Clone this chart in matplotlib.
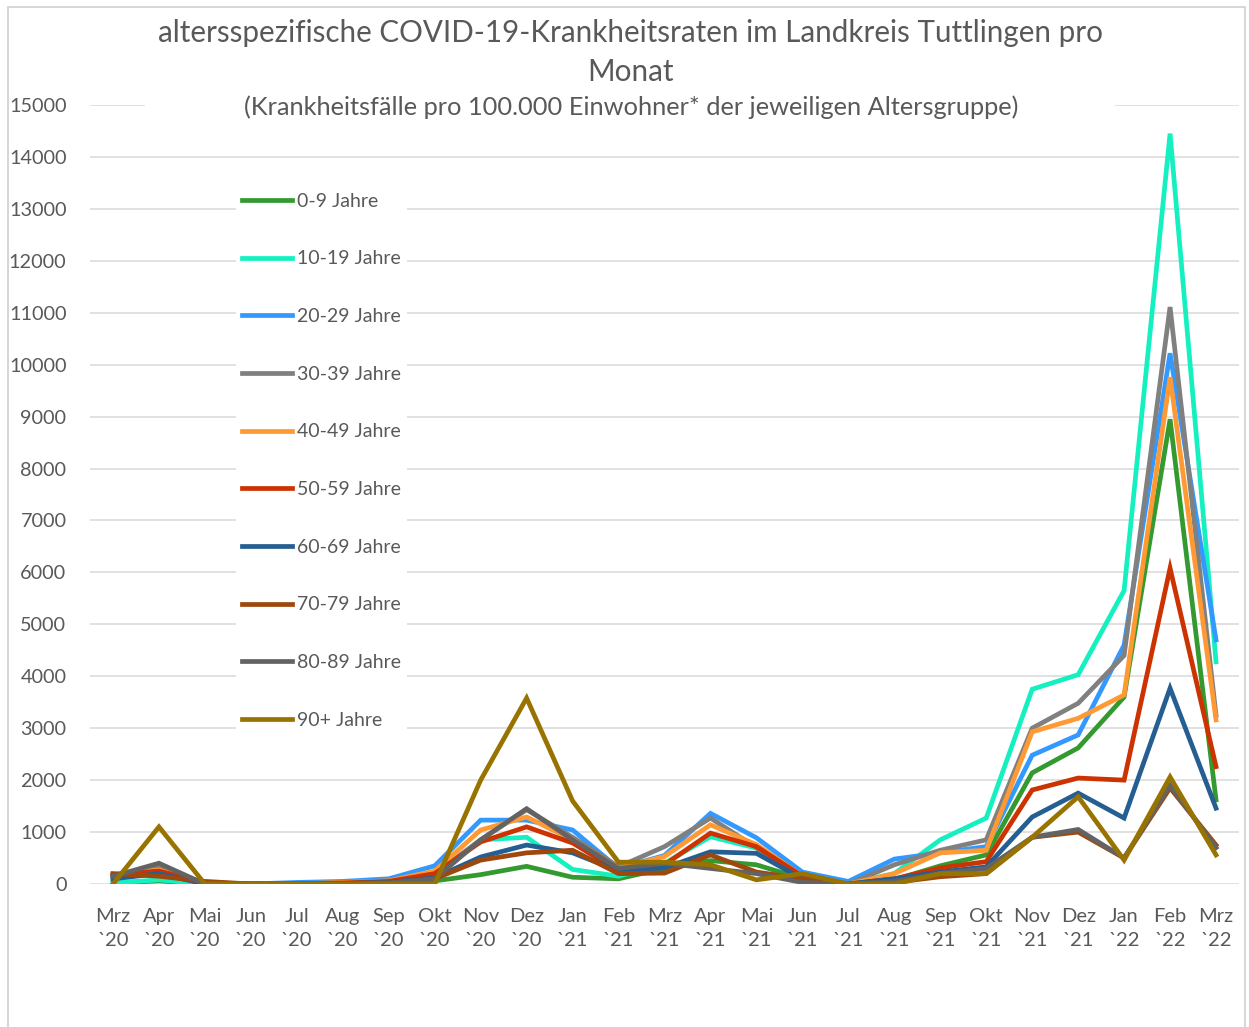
import matplotlib
matplotlib.use("Agg")
import matplotlib.pyplot as plt
from matplotlib.patches import Rectangle
import numpy as np

plt.rcParams['font.family'] = ['Lato', 'DejaVu Sans']

months = ["Mrz\n`20", "Apr\n`20", "Mai\n`20", "Jun\n`20", "Jul\n`20", "Aug\n`20", "Sep\n`20",
          "Okt\n`20", "Nov\n`20", "Dez\n`20", "Jan\n`21", "Feb\n`21", "Mrz\n`21", "Apr\n`21",
          "Mai\n`21", "Jun\n`21", "Jul\n`21", "Aug\n`21", "Sep\n`21", "Okt\n`21", "Nov\n`21",
          "Dez\n`21", "Jan\n`22", "Feb\n`22", "Mrz\n`22"]

a0_9 = [20, 60, 0, 0, 0, 10, 20, 60, 180, 340, 130, 100, 300, 450, 370, 100, 10, 80, 350, 560, 2140, 2620, 3600, 8950, 1620]
a10_19 = [20, 80, 0, 0, 0, 20, 40, 150, 850, 900, 280, 150, 400, 910, 690, 150, 10, 200, 850, 1270, 3750, 4030, 5650, 14450, 4280]
a20_29 = [100, 220, 0, 0, 30, 50, 100, 350, 1230, 1230, 1040, 300, 550, 1360, 890, 230, 50, 480, 600, 720, 2480, 2870, 4600, 10220, 4700]
a30_39 = [150, 350, 0, 0, 0, 30, 60, 200, 850, 1430, 900, 330, 720, 1270, 700, 80, 0, 370, 650, 850, 3000, 3480, 4400, 11110, 3250]
a40_49 = [180, 270, 0, 0, 0, 30, 60, 250, 1040, 1290, 850, 300, 530, 1140, 760, 150, 0, 200, 600, 650, 2930, 3190, 3640, 9760, 3160]
a50_59 = [180, 250, 30, 0, 0, 20, 50, 200, 810, 1100, 790, 250, 370, 980, 720, 150, 0, 100, 310, 430, 1810, 2040, 2000, 6080, 2260]
a60_69 = [100, 200, 0, 0, 0, 10, 30, 120, 520, 750, 600, 250, 310, 620, 590, 100, 0, 100, 230, 330, 1290, 1750, 1270, 3770, 1460]
a70_79 = [200, 150, 50, 0, 0, 0, 20, 100, 460, 600, 650, 200, 210, 560, 230, 100, 0, 30, 140, 200, 900, 1000, 500, 1850, 750]
a80_89 = [150, 400, 0, 0, 0, 0, 20, 100, 850, 1450, 850, 300, 400, 300, 200, 30, 0, 50, 200, 300, 900, 1050, 500, 1900, 700]
a90 = [0, 1100, 0, 0, 0, 0, 0, 0, 2000, 3580, 1600, 420, 420, 370, 80, 200, 0, 0, 200, 200, 900, 1680, 460, 2060, 560]

labels = ["0-9 Jahre", "10-19 Jahre", "20-29 Jahre", "30-39 Jahre", "40-49 Jahre",
          "50-59 Jahre", "60-69 Jahre", "70-79 Jahre", "80-89 Jahre", "90+ Jahre"]
series = [a0_9, a10_19, a20_29, a30_39, a40_49, a50_59, a60_69, a70_79, a80_89, a90]
colors = ['#349a2f', '#14f0c0', '#3399ff', '#808080', '#ff9933',
          '#cc3300', '#255e91', '#9e480e', '#636363', '#997300']

W, H = 1249, 1027
fig = plt.figure(figsize=(W / 100, H / 100), dpi=100)
ax = fig.add_axes([90 / W, 1 - 884 / H, (1239 - 90) / W, (884 - 105) / H])

x = np.arange(len(months))
for s, c, l in zip(series, colors, labels):
    ax.plot(x, s, color=c, lw=3.4, label=l, solid_joinstyle='miter', zorder=3)

ax.set_xlim(-0.5, len(months) - 0.5)
ax.set_ylim(0, 15000)
ax.set_yticks(np.arange(0, 15001, 1000))
ax.set_xticks(x)
ax.set_xticklabels(months)
ax.grid(axis='y', color='#d9d9d9', lw=1.1, zorder=0)
ax.set_axisbelow(True)
for sp in ax.spines.values():
    sp.set_visible(False)
ax.tick_params(axis='both', length=0, colors='#595959', labelsize=14.5)
ax.tick_params(axis='y', labelsize=14.3, pad=17)
ax.tick_params(axis='x', pad=17)
for t in ax.get_xticklabels():
    t.set_linespacing(1.55)

# white box behind title covering grid line
ax.add_patch(Rectangle((145 / W, 1 - 125 / H), (1115 - 145) / W, 115 / H,
                       transform=fig.transFigure, facecolor='white', edgecolor='none',
                       zorder=1, clip_on=False))

fig.text(0.505, 1 - 33 / H, "altersspezifische COVID-19-Krankheitsraten im Landkreis Tuttlingen pro",
         ha='center', va='center', fontsize=21.3, color='#595959')
fig.text(0.505, 1 - 72 / H, "Monat", ha='center', va='center', fontsize=21.3, color='#595959')
fig.text(0.505, 1 - 107 / H, "(Krankheitsfälle pro 100.000 Einwohner* der jeweiligen Altersgruppe)",
         ha='center', va='center', fontsize=18.3, color='#595959')

leg = ax.legend(loc='upper left', bbox_to_anchor=(236 / W, 1 - 187 / H),
                bbox_transform=fig.transFigure, frameon=True, facecolor='white',
                edgecolor='none', framealpha=1, fancybox=False, fontsize=14,
                handlelength=2.6, handletextpad=0.25, labelspacing=2.09,
                borderpad=0.3, borderaxespad=0)
for t in leg.get_texts():
    t.set_color('#595959')
leg.set_zorder(5)

# outer border
fig.patches.append(Rectangle((8 / W, -10 / H), (1245 - 8) / W, (1030) / H,
                             transform=fig.transFigure, facecolor='none',
                             edgecolor='#d0d0d0', lw=1.2))

fig.savefig("out.png", dpi=100)
